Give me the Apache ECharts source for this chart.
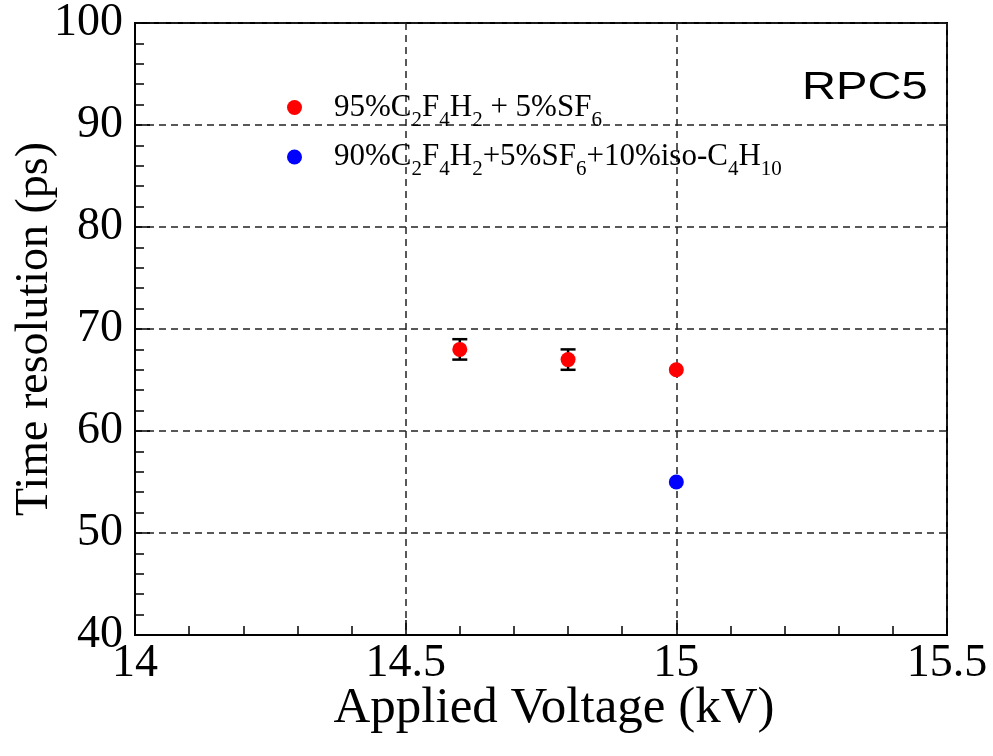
<!DOCTYPE html>
<html>
<head>
<meta charset="utf-8">
<script src="https://cdn.jsdelivr.net/npm/echarts@6/dist/echarts.min.js"></script>
<style>
  html, body { margin: 0; padding: 0; background: #fff; }
  #chart { width: 993px; height: 756px; }
</style>
</head>
<body>
<div id="chart"></div>
<script>
// Time resolution of RPC5 vs applied voltage for two gas mixtures
const mixA = '95%C2F4H2 + 5%SF6';
const mixB = '90%C2F4H2+5%SF6+10%iso-C4H10';

const voltageA = [14.6, 14.8, 15.0];
const resolutionA = [68, 67, 66];
const errorA = [1, 1, 0];

const voltageB = [15.0];
const resolutionB = [55];
const errorB = [0];

const xTicks = { min: 14, max: 15.5, step: 0.5 };
const yTicks = { min: 40, max: 100, step: 10 };

// Legend labels with chemical subscripts as rich text
const legendRich = {};
legendRich[mixA] = '{g|}{n|95%C}{s|2}{n|F}{s|4}{n|H}{s|2}{n| + 5%SF}{s|6}';
legendRich[mixB] = '{g|}{n|90%C}{s|2}{n|F}{s|4}{n|H}{s|2}{n|+5%SF}{s|6}{n|+10%iso-C}{s|4}{n|H}{s|10}';

const serif = '"Liberation Serif", "Times New Roman", serif';

function errorData(xs, ys, es) {
  return xs.map((x, i) => [x, ys[i] - es[i], ys[i] + es[i], es[i]]);
}

function renderError(params, api) {
  const err = api.value(3);
  if (!err) return null;
  const x = api.value(0);
  const lo = api.coord([x, api.value(1)]);
  const hi = api.coord([x, api.value(2)]);
  const hw = 7.5;
  const style = { stroke: '#000', lineWidth: 2.5 };
  return {
    type: 'group',
    children: [
      { type: 'line', shape: { x1: lo[0], y1: lo[1], x2: hi[0], y2: hi[1] }, style },
      { type: 'line', shape: { x1: lo[0] - hw, y1: lo[1], x2: lo[0] + hw, y2: lo[1] }, style },
      { type: 'line', shape: { x1: hi[0] - hw, y1: hi[1], x2: hi[0] + hw, y2: hi[1] }, style }
    ]
  };
}

const gridLine = { show: true, lineStyle: { color: '#222', width: 1.5, type: [7, 5] } };

const chart = echarts.init(document.getElementById('chart'));
chart.setOption({
  animation: false,
  backgroundColor: '#fff',
  grid: {
    left: 135, right: 46, top: 23, bottom: 121,
    containLabel: false,
    outerBoundsMode: 'none',
    show: true, borderColor: '#000', borderWidth: 2
  },
  xAxis: {
    type: 'value',
    min: xTicks.min, max: xTicks.max, interval: xTicks.step,
    name: 'Applied Voltage (kV)',
    nameLocation: 'middle',
    nameGap: 48,
    nameMoveOverlap: false,
    nameTextStyle: { fontFamily: serif, fontSize: 51, color: '#000', padding: [0, 0, 0, 26] },
    axisLine: { show: true, lineStyle: { color: '#000', width: 2 } },
    axisTick: { show: true, inside: true, length: 15, lineStyle: { color: '#000', width: 1.5 } },
    minorTick: { show: true, splitNumber: 5, length: 9, lineStyle: { color: '#000', width: 1.5 } },
    axisLabel: { fontFamily: serif, fontSize: 46, color: '#000', margin: 6, showMinLabel: true, showMaxLabel: true },
    splitLine: gridLine
  },
  yAxis: {
    type: 'value',
    min: yTicks.min, max: yTicks.max, interval: yTicks.step,
    name: 'Time resolution (ps)',
    nameLocation: 'middle',
    nameGap: 77,
    nameMoveOverlap: false,
    nameTextStyle: { fontFamily: serif, fontSize: 46, color: '#000' },
    axisLine: { show: true, lineStyle: { color: '#000', width: 2 } },
    axisTick: { show: true, inside: true, length: 15, lineStyle: { color: '#000', width: 1.5 } },
    minorTick: { show: true, splitNumber: 5, length: 9, lineStyle: { color: '#000', width: 1.5 } },
    axisLabel: { fontFamily: serif, fontSize: 46, color: '#000', margin: 12 },
    splitLine: gridLine
  },
  legend: {
    data: [mixA, mixB],
    orient: 'vertical',
    left: 282,
    top: 87,
    itemGap: 11,
    itemWidth: 15,
    itemHeight: 15,
    icon: 'circle',
    itemStyle: { opacity: 1 },
    formatter: (name) => legendRich[name],
    textStyle: {
      fontFamily: serif,
      color: '#000',
      rich: {
        g: { width: 27, lineHeight: 46 },
        n: { fontFamily: serif, fontSize: 31, lineHeight: 46, verticalAlign: 'middle', color: '#000' },
        s: { fontFamily: serif, fontSize: 21, lineHeight: 21, verticalAlign: 'bottom', color: '#000' }
      }
    }
  },
  graphic: [{
    type: 'text',
    x: 802,
    y: 70,
    scaleX: 1.24,
    style: { text: 'RPC5', fontFamily: '"Liberation Sans", Arial, sans-serif', fontSize: 38, fill: '#000' }
  }],
  series: [
    {
      name: mixA + ' err',
      type: 'custom',
      renderItem: renderError,
      data: errorData(voltageA, resolutionA, errorA),
      z: 3
    },
    {
      name: mixA,
      type: 'scatter',
      symbol: 'circle',
      symbolSize: 15,
      itemStyle: { color: '#ff0000', opacity: 1 },
      data: voltageA.map((v, i) => [v, resolutionA[i]]),
      z: 4
    },
    {
      name: mixB + ' err',
      type: 'custom',
      renderItem: renderError,
      data: errorData(voltageB, resolutionB, errorB),
      z: 3
    },
    {
      name: mixB,
      type: 'scatter',
      symbol: 'circle',
      symbolSize: 15,
      itemStyle: { color: '#0000ff', opacity: 1 },
      data: voltageB.map((v, i) => [v, resolutionB[i]]),
      z: 4
    }
  ]
});
</script>
</body>
</html>
